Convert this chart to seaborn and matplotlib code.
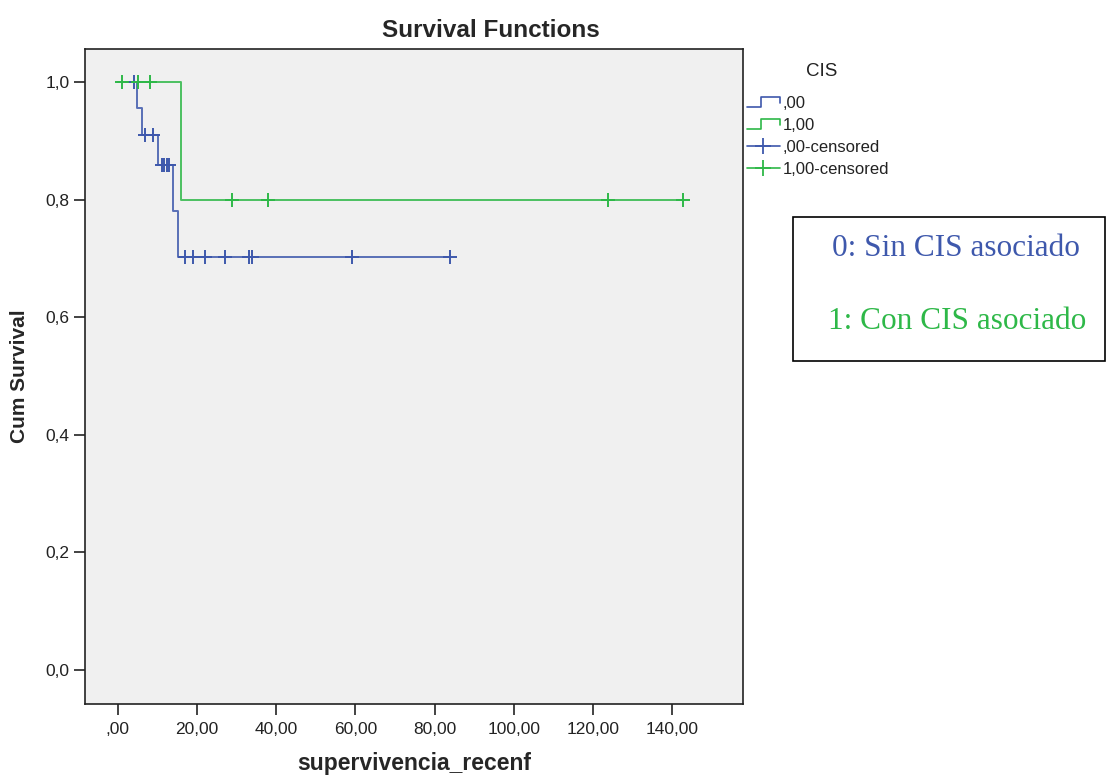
import numpy as np
import pandas as pd
import seaborn as sns
import matplotlib.pyplot as plt
from matplotlib.lines import Line2D
from matplotlib.patches import Rectangle
from matplotlib.legend_handler import HandlerBase

# Kaplan-Meier step values (time in months, cumulative survival)
groups = [",00", "1,00"]
step_times_00 = [0.0, 4.95, 6.05, 10.1, 13.9, 15.1]
step_surv_00 = [1.0, 0.955, 0.909, 0.858, 0.781, 0.702]
censored_00 = [4.1, 6.9, 9.0, 11.1, 11.8, 12.4, 13.0, 17.0, 19.1, 22.0,
               27.1, 33.2, 33.8, 59.1, 83.9]

step_times_10 = [0.0, 16.0]
step_surv_10 = [1.0, 0.8]
censored_10 = [1.0, 5.0, 8.2, 28.9, 38.0, 123.8, 142.8]

xticks = [0, 20, 40, 60, 80, 100, 120, 140]
xtick_labels = [",00", "20,00", "40,00", "60,00", "80,00", "100,00", "120,00", "140,00"]
yticks = [0.0, 0.2, 0.4, 0.6, 0.8, 1.0]
ytick_labels = ["0,0", "0,2", "0,4", "0,6", "0,8", "1,0"]

colors = {",00": "#3E58AC", "1,00": "#2EB848"}


def step_frame(times, surv, censored, label):
    end = max(max(censored), times[-1])
    x = list(times) + [end]
    y = list(surv) + [surv[-1]]
    return pd.DataFrame({"time": x, "surv": y, "group": label})


def censored_frame(times, surv, censored, label):
    idx = np.searchsorted(times, censored, side="right") - 1
    return pd.DataFrame({"time": censored, "surv": np.array(surv)[idx], "group": label})


steps = pd.concat([step_frame(step_times_00, step_surv_00, censored_00, ",00"),
                   step_frame(step_times_10, step_surv_10, censored_10, "1,00")])
cens = pd.concat([censored_frame(step_times_00, step_surv_00, censored_00, ",00"),
                  censored_frame(step_times_10, step_surv_10, censored_10, "1,00")])

sns.set_style("white")
plt.rcParams["font.family"] = ["Liberation Sans", "DejaVu Sans"]

fig = plt.figure(figsize=(11.06, 7.79), dpi=100)
ax = fig.add_axes([0.0769, 0.0963, 0.5949, 0.8404])
ax.set_facecolor("#F0F0F0")

for g in groups:
    sub = steps[steps["group"] == g]
    sns.lineplot(data=sub, x="time", y="surv", ax=ax, color=colors[g], lw=1.4,
                 drawstyle="steps-post", estimator=None, sort=False, alpha=0.85)
    csub = cens[cens["group"] == g]
    sns.scatterplot(data=csub, x="time", y="surv", ax=ax, color=colors[g],
                    marker="+", s=90, linewidth=1.4, zorder=3)

ax.set_xlim(-8.26, 157.9)
ax.set_ylim(-0.0583, 1.0556)
ax.set_xticks(xticks)
ax.set_xticklabels(xtick_labels)
ax.set_yticks(yticks)
ax.set_yticklabels(ytick_labels)
ax.tick_params(axis="both", direction="out", length=8, width=1.2, labelsize=12.5,
               color="#222222", labelcolor="#222222", pad=3, bottom=True, left=True)
ax.tick_params(axis="x", pad=5)
for s in ax.spines.values():
    s.set_color("#222222")
    s.set_linewidth(1.2)

ax.set_xlabel("supervivencia_recenf", fontsize=16.5, fontweight="bold", labelpad=11)
ax.set_ylabel("Cum Survival", fontsize=15, fontweight="bold", labelpad=12)

fig.text(0.444, 0.953, "Survival Functions", fontsize=17.5, fontweight="bold",
         ha="center", va="baseline")


class StepHandler(HandlerBase):
    def create_artists(self, legend, orig_handle, xdescent, ydescent, width, height,
                       fontsize, trans):
        x0, y0 = -xdescent, -ydescent
        xs = [x0, x0 + 0.42 * width, x0 + 0.42 * width, x0 + width, x0 + width]
        ys = [y0 + 0.1 * height, y0 + 0.1 * height, y0 + 0.9 * height,
              y0 + 0.9 * height, y0 + 0.4 * height]
        line = Line2D(xs, ys, color=orig_handle.get_color(), lw=1.2)
        line.set_transform(trans)
        return [line]


h_00 = Line2D([], [], color=colors[",00"], lw=1.2)
h_10 = Line2D([], [], color=colors["1,00"], lw=1.2)
h_c00 = Line2D([], [], color=colors[",00"], lw=1.2, marker="+", markersize=11, mew=1.3)
h_c10 = Line2D([], [], color=colors["1,00"], lw=1.2, marker="+", markersize=11, mew=1.3)

leg = fig.legend([h_00, h_10, h_c00, h_c10],
                 [",00", "1,00", ",00-censored", "1,00-censored"],
                 handler_map={h_00: StepHandler(), h_10: StepHandler()},
                 loc="upper left", bbox_to_anchor=(0.675, 0.877),
                 frameon=False, fontsize=12,
                 handlelength=2.0, handletextpad=0.15, labelspacing=0.43,
                 borderaxespad=0, borderpad=0)
for t in leg.get_texts():
    t.set_color("#222222")
fig.text(822 / 1106, 1 - 71 / 779, "CIS", fontsize=13.5, color="#222222",
         ha="center", va="center")

fig.add_artist(Rectangle((0.717, 0.5366), 0.282, 0.1849, transform=fig.transFigure,
                         fill=False, edgecolor="black", lw=1.2))
fig.text(0.8644, 0.6816, "0: Sin CIS asociado", color="#3E58AC", fontsize=22.5,
         family=["Liberation Serif", "DejaVu Serif"], ha="center", va="center")
fig.text(0.8653, 0.5879, "1: Con CIS asociado", color="#2EB848", fontsize=22.5,
         family=["Liberation Serif", "DejaVu Serif"], ha="center", va="center")

fig.savefig("out.png", dpi=100, facecolor="white")
